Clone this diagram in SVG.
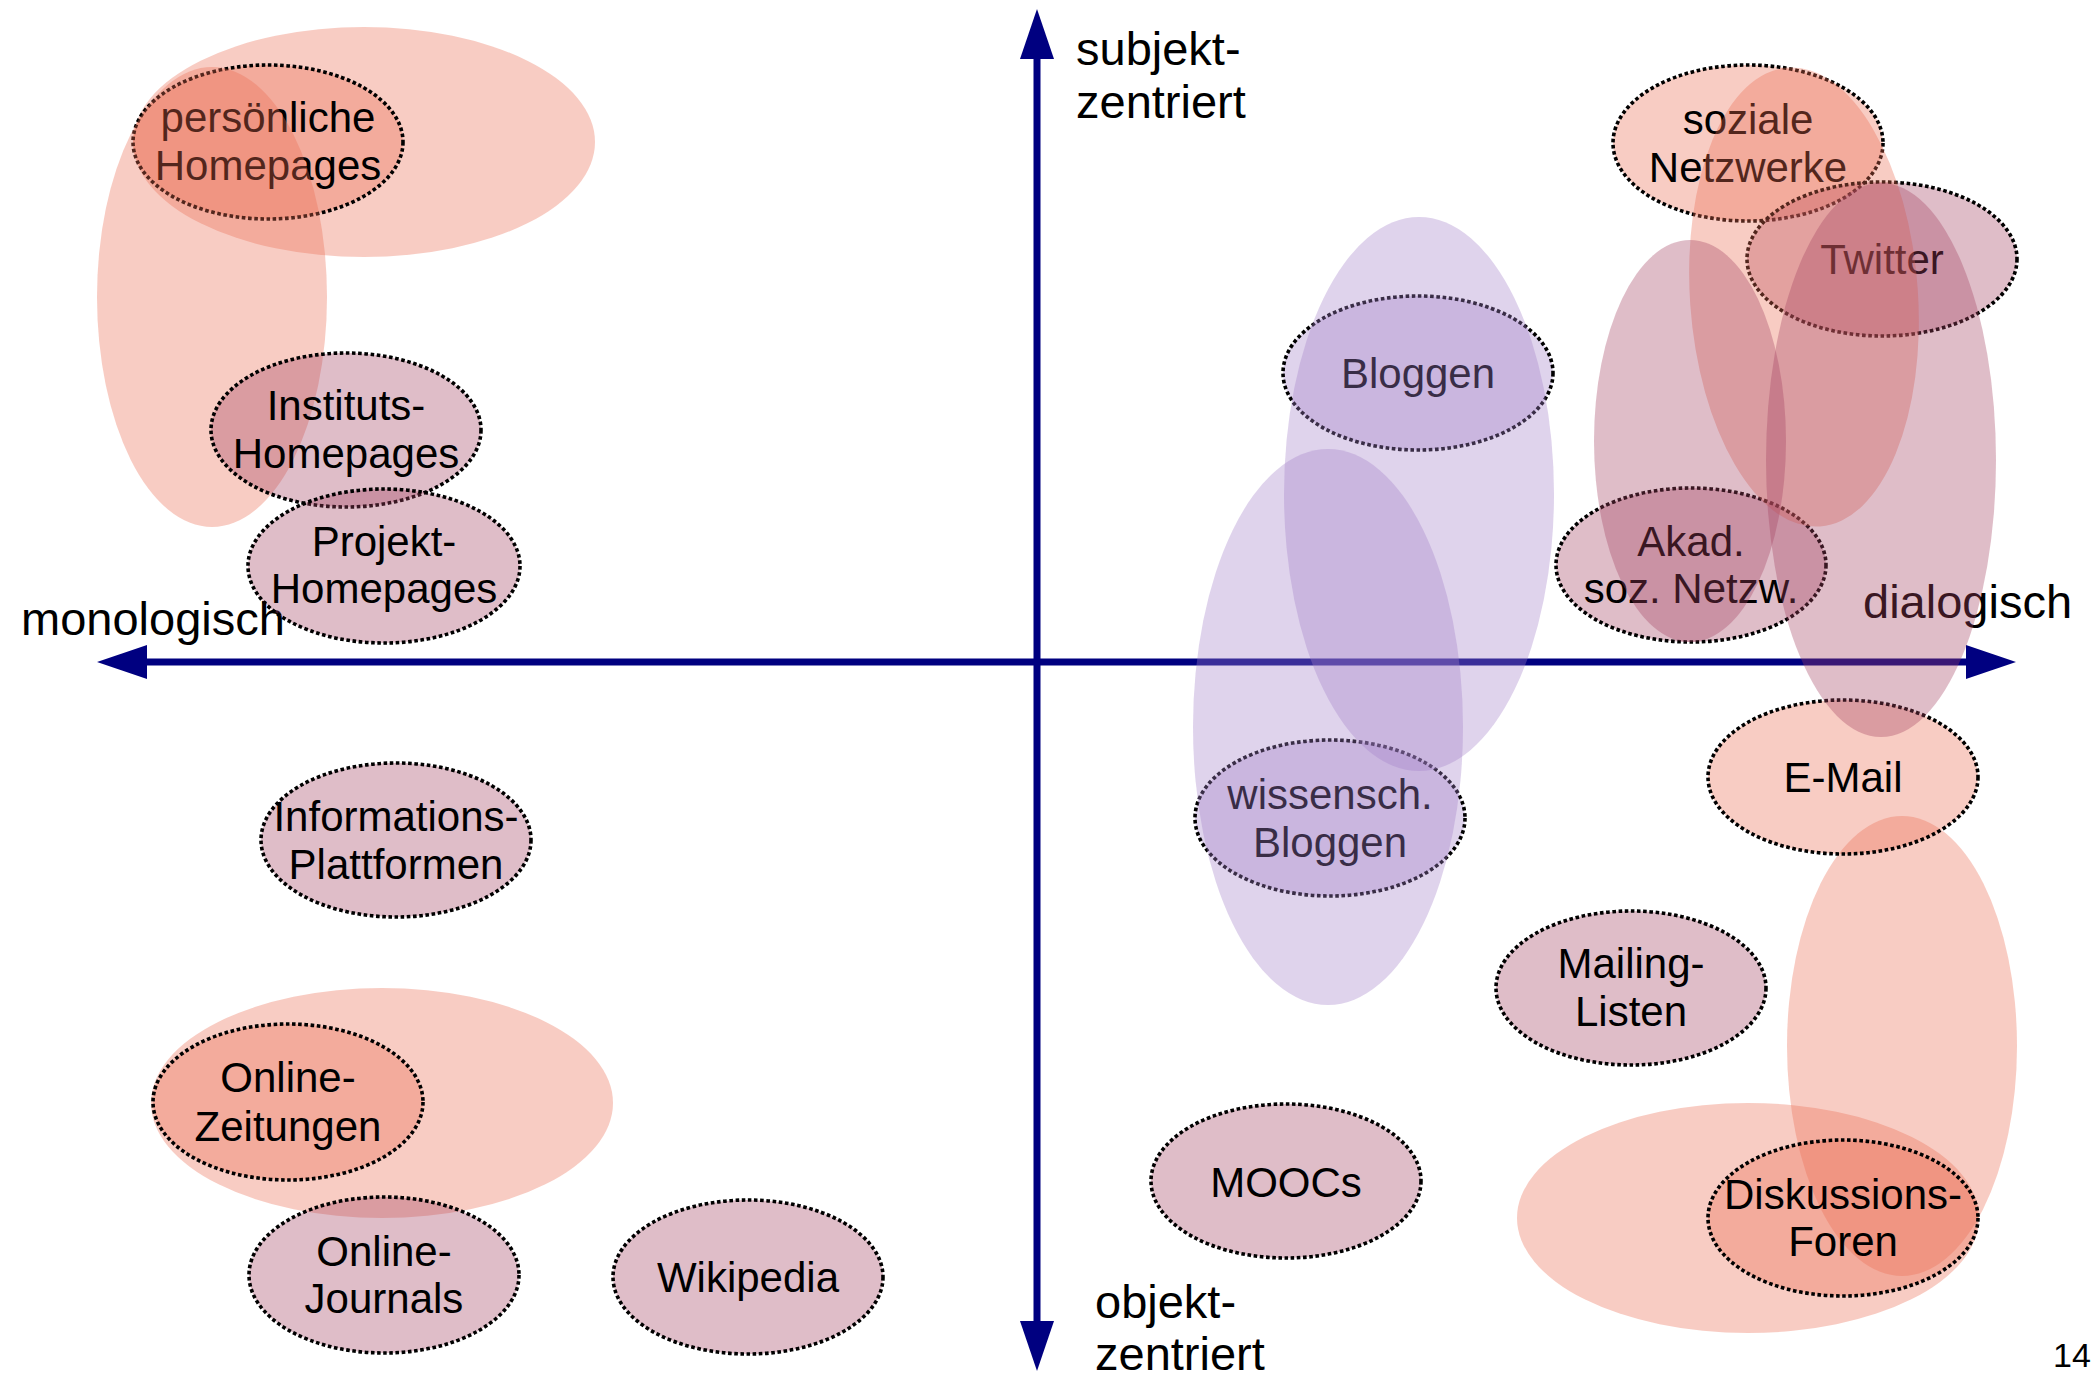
<svg xmlns="http://www.w3.org/2000/svg" width="2091" height="1376" viewBox="0 0 2091 1376">
<defs>
<style>
text{font-family:"Liberation Sans",Arial,Helvetica,sans-serif;font-size:42px;fill:#000;text-anchor:middle}
.ax{font-size:47px;text-anchor:start}
.pg{font-size:34px;text-anchor:start}
.n{stroke:#000;stroke-width:3.6;stroke-dasharray:3.6 2.6}
.s{fill:#EB6D54;fill-opacity:0.35}
.m{fill:#A44262;fill-opacity:0.35}
.l{fill:#A481C9;fill-opacity:0.35}
.axis{stroke:#000080;stroke-width:7;fill:none}
</style>
<marker id="arr" viewBox="0 0 50 34" refX="0" refY="17" markerWidth="50" markerHeight="34" markerUnits="userSpaceOnUse" orient="auto-start-reverse">
<path d="M0,0 L50,17 L0,34 z" fill="#000080"/>
</marker>
</defs>
<rect width="2091" height="1376" fill="#fff"/>

<g id="axes">
<line class="axis" x1="147" y1="662" x2="1966" y2="662" marker-start="url(#arr)" marker-end="url(#arr)"/>
<line class="axis" x1="1037" y1="59" x2="1037" y2="1321" marker-start="url(#arr)" marker-end="url(#arr)"/>
</g>
<g id="axis-labels">
<text class="ax" x="1076" y="65">subjekt-</text>
<text class="ax" x="1076" y="118">zentriert</text>
<text class="ax" x="1095" y="1318">objekt-</text>
<text class="ax" x="1095" y="1370">zentriert</text>
<text class="ax" x="21" y="635">monologisch</text>
<text class="ax" x="1863" y="618">dialogisch</text>
<text class="pg" x="2053" y="1367">14</text>
</g>

<ellipse id="grp-hp-wide" class="s" cx="364" cy="142" rx="231" ry="115"/>
<g id="n-persoenlich">
<ellipse class="n s" cx="268" cy="142" rx="135" ry="77"/>
<text x="268" y="132">persönliche</text>
<text x="268" y="180">Homepages</text>
</g>
<ellipse id="grp-hp-tall" class="s" cx="212" cy="297" rx="115" ry="230"/>
<g id="n-instituts">
<ellipse class="n m" cx="346" cy="430" rx="135" ry="77"/>
<text x="346" y="420">Instituts-</text>
<text x="346" y="468">Homepages</text>
</g>
<g id="n-projekt">
<ellipse class="n m" cx="384" cy="566" rx="136" ry="77"/>
<text x="384" y="556">Projekt-</text>
<text x="384" y="603">Homepages</text>
</g>
<g id="n-info">
<ellipse class="n m" cx="396" cy="840" rx="135" ry="77"/>
<text x="396" y="831">Informations-</text>
<text x="396" y="879">Plattformen</text>
</g>
<ellipse id="grp-zeitungen" class="s" cx="382" cy="1103" rx="231" ry="115"/>
<g id="n-zeitungen">
<ellipse class="n s" cx="288" cy="1102" rx="135" ry="78"/>
<text x="288" y="1092">Online-</text>
<text x="288" y="1141">Zeitungen</text>
</g>
<g id="n-journals">
<ellipse class="n m" cx="384" cy="1275" rx="135" ry="78"/>
<text x="384" y="1266">Online-</text>
<text x="384" y="1313">Journals</text>
</g>
<g id="n-wikipedia">
<ellipse class="n m" cx="748" cy="1277" rx="135" ry="77"/>
<text x="748" y="1292">Wikipedia</text>
</g>
<g id="n-moocs">
<ellipse class="n m" cx="1286" cy="1181" rx="135" ry="77"/>
<text x="1286" y="1197">MOOCs</text>
</g>
<g id="n-mailing">
<ellipse class="n m" cx="1631" cy="988" rx="135" ry="77"/>
<text x="1631" y="978">Mailing-</text>
<text x="1631" y="1026">Listen</text>
</g>
<ellipse id="grp-foren-wide" class="s" cx="1748" cy="1218" rx="231" ry="115"/>
<ellipse id="grp-foren-tall" class="s" cx="1902" cy="1046" rx="115" ry="230"/>
<g id="n-foren">
<ellipse class="n s" cx="1843" cy="1218" rx="135" ry="78"/>
<text x="1843" y="1209">Diskussions-</text>
<text x="1843" y="1256">Foren</text>
</g>
<g id="n-email">
<ellipse class="n s" cx="1843" cy="777" rx="135" ry="77"/>
<text x="1843" y="792">E-Mail</text>
</g>
<g id="n-soziale">
<ellipse class="n s" cx="1748" cy="143" rx="135" ry="78"/>
<text x="1748" y="134">soziale</text>
<text x="1748" y="182">Netzwerke</text>
</g>
<g id="n-twitter">
<ellipse class="n m" cx="1882" cy="259" rx="135" ry="77"/>
<text x="1882" y="274">Twitter</text>
</g>
<g id="n-akad">
<ellipse class="n m" cx="1691" cy="565" rx="135" ry="77"/>
<text x="1691" y="556">Akad.</text>
<text x="1691" y="603">soz. Netzw.</text>
</g>
<ellipse id="grp-soziale-tall" class="s" cx="1804" cy="297" rx="114" ry="230" transform="rotate(-4 1804 297)"/>
<ellipse id="grp-akad-tall" class="m" cx="1690" cy="441" rx="96" ry="201"/>
<ellipse id="grp-dialog-tall" class="m" cx="1881" cy="460" rx="115" ry="277"/>
<g id="n-bloggen">
<ellipse class="n l" cx="1418" cy="373" rx="135" ry="77"/>
<text x="1418" y="388">Bloggen</text>
</g>
<g id="n-wissbloggen">
<ellipse class="n l" cx="1330" cy="818" rx="135" ry="78"/>
<text x="1330" y="809">wissensch.</text>
<text x="1330" y="857">Bloggen</text>
</g>
<ellipse id="grp-bloggen-tall" class="l" cx="1419" cy="494" rx="135" ry="277"/>
<ellipse id="grp-wiss-tall" class="l" cx="1328" cy="727" rx="135" ry="278"/>
</svg>
